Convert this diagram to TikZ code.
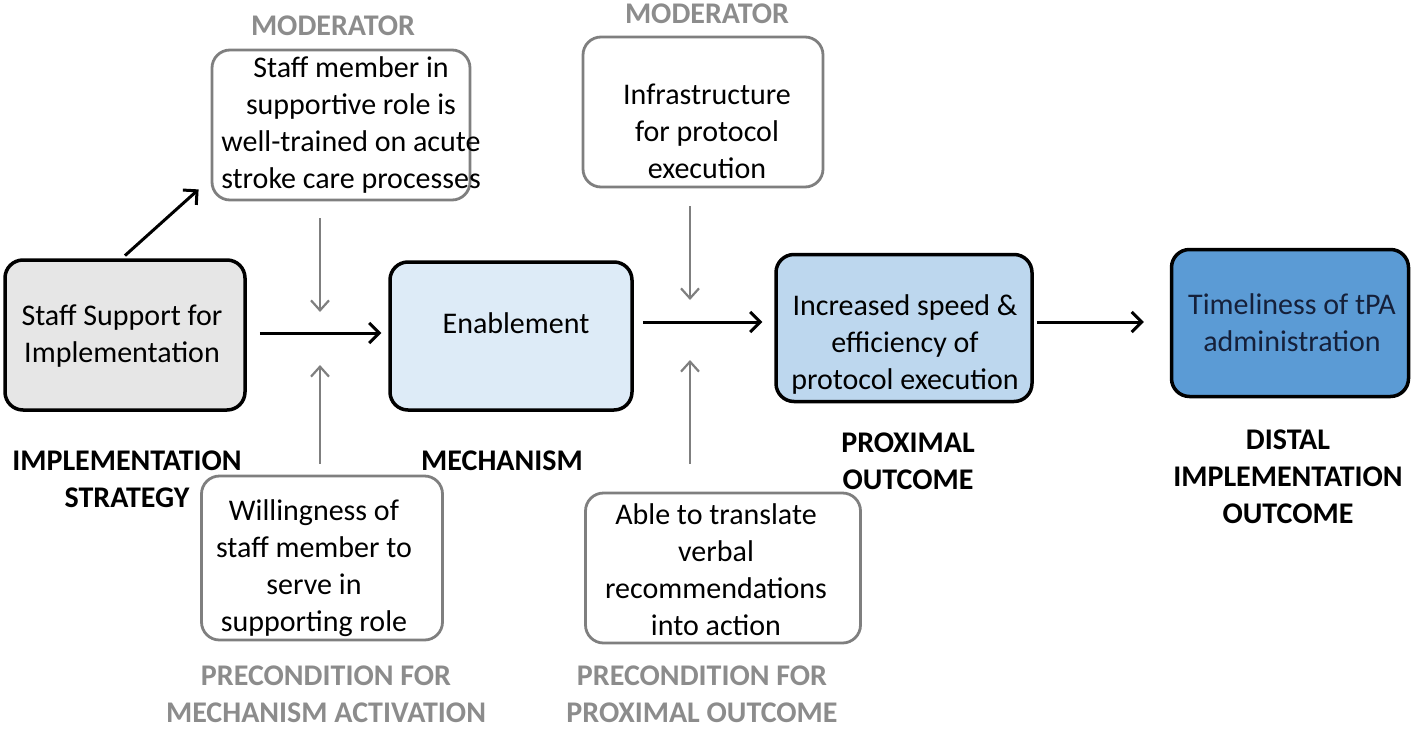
\documentclass[tikz,border=0pt]{standalone}
\usepackage{fontspec}
\setmainfont{Carlito}
\usetikzlibrary{arrows.meta}
\definecolor{boxgray}{HTML}{7F7F7F}
\definecolor{lblgray}{HTML}{8C8C8C}
\definecolor{stratfill}{HTML}{E6E6E6}
\definecolor{mechfill}{HTML}{DDEBF7}
\definecolor{proxfill}{HTML}{BDD7EE}
\definecolor{distfill}{HTML}{5B9BD5}
\definecolor{disttext}{HTML}{15203A}
\tikzset{
  mainbox/.style={draw=black, line width=1.75pt, rounded corners=9pt, inner sep=0pt},
  condbox/.style={draw=boxgray, line width=1.4pt, fill=white, rounded corners=9pt, inner sep=0pt},
  txt/.style={align=center, inner sep=0pt, font=\fontsize{15}{18.5}\selectfont},
  blbl/.style={align=center, inner sep=0pt, font=\fontsize{15}{18.5}\selectfont\bfseries},
  glbl/.style={blbl, text=lblgray},
  arr/.style={line width=1.5pt, -{Straight Barb[length=5pt,width=10pt,line width=1.5pt]}},
  garr/.style={draw=boxgray, line width=1.1pt, -{Straight Barb[length=5pt,width=9pt,line width=1.1pt]}},
}
\begin{document}
\begin{tikzpicture}[x=0.5pt,y=-0.5pt]
\useasboundingbox (0,0) rectangle (1418,728);
% boxes
\node[condbox, minimum width=129pt, minimum height=75pt] (m1) at (341,125) {};
\node[condbox, minimum width=120pt, minimum height=75pt] (m2) at (703,112) {};
\node[mainbox, fill=stratfill, minimum width=120pt, minimum height=75pt] (s) at (125,335) {};
\node[mainbox, fill=mechfill, minimum width=121pt, minimum height=74pt] (mech) at (511,336) {};
\node[mainbox, fill=proxfill, minimum width=128pt, minimum height=73.5pt] (prox) at (904,328) {};
\node[mainbox, fill=distfill, minimum width=118.5pt, minimum height=73.5pt] (dist) at (1290,323) {};
\node[condbox, minimum width=120.5pt, minimum height=82pt] (p1) at (322,558) {};
\node[condbox, minimum width=137.5pt, minimum height=75pt] (p2) at (723,568) {};
% box texts
\node[txt] (m1t) at (351,125) {Staff member in\\supportive role is\\well-trained on acute\\stroke care processes};
\node[txt] (m2t) at (707,131) {Infrastructure\\for protocol\\execution};
\node[txt] (st) at (122,336) {Staff Support for\\Implementation};
\node[txt] (mecht) at (516,323) {Enablement};
\node[txt] (proxt) at (905,344) {Increased speed \&\\efficiency of\\protocol execution};
\node[txt, text=disttext] (distt) at (1292,323) {Timeliness of tPA\\administration};
\node[txt] (p1t) at (314,568) {Willingness of\\staff member to\\serve in\\supporting role};
\node[txt] (p2t) at (716,570) {Able to translate\\verbal\\recommendations\\into action};
% labels
\node[glbl] (l1) at (333,26) {MODERATOR};
\node[glbl] (l2) at (707,14) {MODERATOR};
\node[blbl] (ls) at (127,479) {IMPLEMENTATION\\STRATEGY};
\node[blbl] (lm) at (502,461) {MECHANISM};
\node[blbl] (lp) at (908,461) {PROXIMAL\\OUTCOME};
\node[blbl] (ld) at (1288,477) {DISTAL\\IMPLEMENTATION\\OUTCOME};
\node[glbl] (lp1) at (326,694) {PRECONDITION FOR\\MECHANISM ACTIVATION};
\node[glbl] (lp2) at (702,694) {PRECONDITION FOR\\PROXIMAL OUTCOME};
% junctions
\coordinate (j1) at (320,338);
\coordinate (j2) at (690,330);
% black arrows
\draw[arr, shorten <=6.5pt, shorten >=3.5pt] ([yshift=1pt]s.east) -- ([yshift=1.5pt]mech.west);
\draw[arr, shorten <=4.5pt, shorten >=6pt] ([yshift=7pt]mech.east) -- ([yshift=3pt]prox.west);
\draw[arr, shorten <=1.5pt, shorten >=13pt] ([yshift=3pt]prox.east) -- ([yshift=0.5pt]dist.west);
\draw[arr, shorten <=2pt] ([xshift=-1.5pt]s.north) -- ([xshift=-6pt,yshift=6pt]m1.south west);
% gray arrows
\draw[garr, shorten <=8.5pt] (m1.south -| j1) -- ([yshift=13pt]j1);
\draw[garr, shorten <=5.5pt] (p1.north -| j1) -- ([yshift=-13.5pt]j1);
\draw[garr, shorten <=9pt] (m2.south -| j2) -- ([yshift=15pt]j2);
\draw[garr, shorten <=14pt] (p2.north -| j2) -- ([yshift=-15pt]j2);
\end{tikzpicture}
\end{document}
